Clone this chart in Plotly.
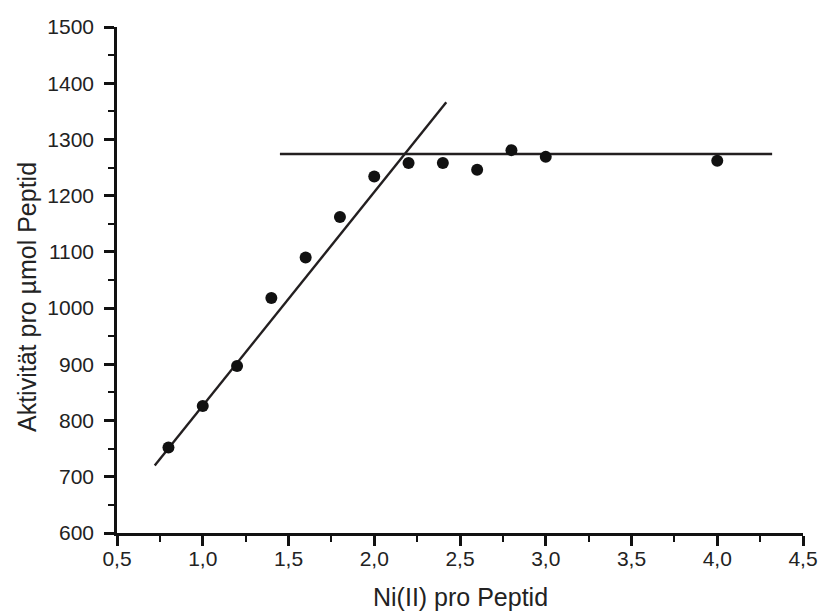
import plotly.graph_objects as go

# data
ni_ratio = [0.8, 1.0, 1.2, 1.4, 1.6, 1.8, 2.0, 2.2, 2.4, 2.6, 2.8, 3.0, 4.0]
activity = [752, 826, 897, 1018, 1090, 1162, 1234, 1258, 1258, 1246, 1281, 1269, 1262]

fit_rise_x = [0.72, 2.42]
fit_rise_y = [720, 1366]
fit_plateau_x = [1.45, 4.32]
fit_plateau_y = [1274, 1274]

x_title = "Ni(II) pro Peptid"
y_title = "Aktivität pro µmol Peptid"

FONT = "Arial, Liberation Sans, sans-serif"
LINE_COL = "#231f20"
TXT = "#222222"

fig = go.Figure()
fig.add_trace(go.Scatter(x=fit_rise_x, y=fit_rise_y, mode="lines",
                         line=dict(color=LINE_COL, width=2.4), showlegend=False))
fig.add_trace(go.Scatter(x=fit_plateau_x, y=fit_plateau_y, mode="lines",
                         line=dict(color=LINE_COL, width=2.4), showlegend=False))
fig.add_trace(go.Scatter(x=ni_ratio, y=activity, mode="markers",
                         marker=dict(color="#111111", size=12), showlegend=False))

fig.update_layout(
    template="none",
    width=820, height=613,
    margin=dict(l=117, r=17, t=27, b=80, autoexpand=False),
    paper_bgcolor="white", plot_bgcolor="white",
    separators=",.",
    font=dict(family=FONT, color=TXT),
    showlegend=False,
)
fig.update_xaxes(
    automargin=False,
    range=[0.5, 4.5], dtick=0.5, tick0=0.5, tickformat=".1f",
    showgrid=False, zeroline=False,
    showline=True, linecolor="#111111", linewidth=2.5,
    ticks="outside", ticklen=10, tickwidth=2.5, tickcolor="#111111",
    minor=dict(ticks="outside", ticklen=6, tickwidth=2, dtick=0.25, tick0=0.5, tickcolor="#111111", showgrid=False),
    tickfont=dict(size=21, family=FONT, color=TXT),
    ticklabelstandoff=-5,
)
fig.update_yaxes(
    automargin=False,
    range=[600, 1500], dtick=100, tick0=600,
    showgrid=False, zeroline=False,
    showline=True, linecolor="#111111", linewidth=2.5,
    ticks="outside", ticklen=10, tickwidth=2.5, tickcolor="#111111",
    minor=dict(ticks="outside", ticklen=6, tickwidth=2, dtick=50, tick0=600, tickcolor="#111111", showgrid=False),
    tickfont=dict(size=21, family=FONT, color=TXT),
    ticklabelstandoff=6,
)

# axis titles placed as annotations to match the reference positions
fig.add_annotation(text=x_title, xref="paper", yref="paper", x=0.5, y=-0.1265,
                   xanchor="center", yanchor="middle", showarrow=False,
                   font=dict(size=25, family=FONT, color=TXT))
fig.add_annotation(text=y_title, xref="paper", yref="paper", x=-0.1312, y=0.4664,
                   xanchor="center", yanchor="middle", showarrow=False, textangle=-90,
                   font=dict(size=25, family=FONT, color=TXT))

fig.write_html("out.html")
